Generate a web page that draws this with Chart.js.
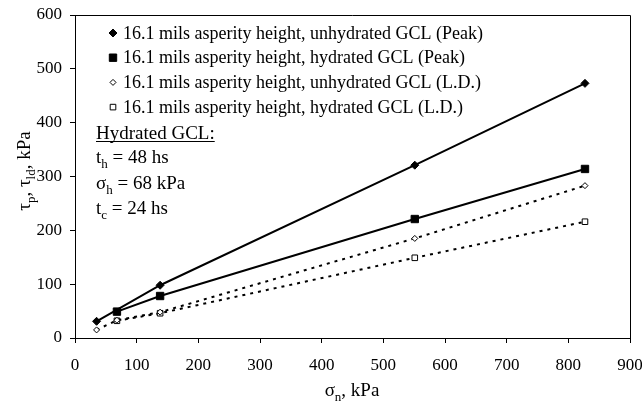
<!DOCTYPE html>
<html>
<head>
<meta charset="utf-8">
<script src="https://cdn.jsdelivr.net/npm/chart.js@4/dist/chart.umd.min.js"></script>
<style>
    html, body { margin: 0; padding: 0; background: #fff; }
    #wrap { width: 642px; height: 403px; }
</style>
</head>
<body>
<div id="wrap"><canvas id="chart" width="642" height="403"></canvas></div>
<script>
// ----- DATA (normal stress vs shear strength, kPa) ----- //
const seriesLabels = [
    '16.1 mils asperity height, unhydrated GCL (Peak)',
    '16.1 mils asperity height, hydrated GCL (Peak)',
    '16.1 mils asperity height, unhydrated GCL (L.D.)',
    '16.1 mils asperity height, hydrated GCL (L.D.)'
];
const sigmaUnhydPeak = [35, 138, 551, 827];
const tauUnhydPeak   = [31, 98, 321, 473];
const sigmaHydPeak   = [68, 138, 551, 827];
const tauHydPeak     = [49, 78, 221, 314];
const sigmaUnhydLD   = [35, 68, 138, 551, 827];
const tauUnhydLD     = [15, 33, 48, 185, 283];
const sigmaHydLD     = [68, 138, 551, 827];
const tauHydLD       = [32, 46, 149, 216];
const xTicks = [0, 100, 200, 300, 400, 500, 600, 700, 800, 900];
const yTicks = [0, 100, 200, 300, 400, 500, 600];
// note box: [main, subscript, rest]
const noteTitle = 'Hydrated GCL:';
const noteRows = [
    ['t', 'h', ' = 48 hs'],
    ['\u03c3', 'h', ' = 68 kPa'],
    ['t', 'c', ' = 24 hs']
];

const FONT = '"Liberation Serif", "Times New Roman", serif';
const toPoints = (xs, ys) => xs.map((x, i) => ({ x: x, y: ys[i] }));

// marker styles per series: [shape, filled, half size]
const markers = [['diamond', true, 4], ['square', true, 3.7], ['diamond', false, 3], ['square', false, 2.8]];

function drawMarker(ctx, shape, filled, x, y, r) {
    ctx.save();
    ctx.beginPath();
    if (shape === 'diamond') {
        ctx.moveTo(x, y - r); ctx.lineTo(x + r, y); ctx.lineTo(x, y + r); ctx.lineTo(x - r, y);
        ctx.closePath();
    } else {
        ctx.rect(x - r, y - r, 2 * r, 2 * r);
    }
    ctx.fillStyle = filled ? '#000' : '#fff';
    ctx.strokeStyle = '#000';
    ctx.lineWidth = 1;
    ctx.fill();
    ctx.stroke();
    ctx.restore();
}

// draw text pieces, odd ones as subscripts; returns width
function drawParts(ctx, parts, x, y, size, measureOnly) {
    let cx = x;
    parts.forEach((p, i) => {
        const sub = i % 2 === 1;
        ctx.font = (sub ? Math.round(size * 0.68) : size) + 'px ' + FONT;
        if (!measureOnly) ctx.fillText(p, cx, sub ? y + size * 0.28 : y);
        cx += ctx.measureText(p).width;
    });
    return cx - x;
}

const extras = {
    id: 'extras',
    afterDraw(chart) {
        const ctx = chart.ctx;
        const a = chart.chartArea;
        ctx.save();
        // frame top and right
        ctx.strokeStyle = '#000';
        ctx.lineWidth = 1;
        ctx.beginPath();
        ctx.moveTo(a.left, Math.round(a.top) + 0.5);
        ctx.lineTo(Math.round(a.right) + 0.5, Math.round(a.top) + 0.5);
        ctx.lineTo(Math.round(a.right) + 0.5, a.bottom);
        ctx.stroke();

        // legend
        ctx.fillStyle = '#000';
        ctx.textBaseline = 'middle';
        ctx.textAlign = 'left';
        ctx.font = '18px ' + FONT;
        seriesLabels.forEach((lbl, i) => {
            const y = 33 + i * 24.7;
            const m = markers[i];
            drawMarker(ctx, m[0], m[1], 113, y, m[2]);
            ctx.fillText(lbl, 123, y + 1);
        });

        // hydration note
        ctx.textBaseline = 'alphabetic';
        ctx.font = '19px ' + FONT;
        ctx.fillText(noteTitle, 96, 139);
        const w = ctx.measureText(noteTitle).width;
        ctx.fillRect(96, 141, w, 1);
        noteRows.forEach((row, i) => {
            drawParts(ctx, row, 96, 163 + i * 25.5, 19);
        });

        // axis titles
        const xt = ['\u03c3', 'n', ', kPa'];
        const xw = drawParts(ctx, xt, 0, 0, 19, true);
        drawParts(ctx, xt, 352 - xw / 2, 396, 19);

        const yt = ['\u03c4', 'p', ', \u03c4', 'ld', ', kPa'];
        const yw = drawParts(ctx, yt, 0, 0, 19, true);
        ctx.translate(30, 171);
        ctx.rotate(-Math.PI / 2);
        drawParts(ctx, yt, -yw / 2, 0, 19);
        ctx.restore();
    }
};

function series(i, xs, ys, dashed) {
    const m = markers[i];
    return {
        label: seriesLabels[i],
        data: toPoints(xs, ys),
        showLine: true,
        borderColor: '#000',
        borderWidth: 2,
        borderDash: dashed ? [3, 5] : [],
        pointStyle: m[0] === 'diamond' ? 'rectRot' : 'rect',
        pointRadius: m[0] === 'diamond' ? m[2] : m[2] * 1.41,
        pointBackgroundColor: m[1] ? '#000' : '#fff',
        pointBorderColor: '#000',
        pointBorderWidth: 1
    };
}

const tickFont = { family: FONT, size: 17 };

new Chart(document.getElementById('chart'), {
    type: 'scatter',
    data: {
        datasets: [
            series(0, sigmaUnhydPeak, tauUnhydPeak, false),
            series(1, sigmaHydPeak, tauHydPeak, false),
            series(2, sigmaUnhydLD, tauUnhydLD, true),
            series(3, sigmaHydLD, tauHydLD, true)
        ]
    },
    options: {
        responsive: false,
        animation: false,
        layout: { padding: { top: 15, right: 12, left: 0, bottom: 0 } },
        plugins: { legend: { display: false }, tooltip: { enabled: false } },
        scales: {
            x: {
                type: 'linear',
                min: xTicks[0],
                max: xTicks[xTicks.length - 1],
                afterBuildTicks: s => { s.ticks = xTicks.map(v => ({ value: v })); },
                afterFit: s => { s.height = 65; s.paddingLeft = 0; s.paddingRight = 0; },
                ticks: { color: '#000', font: tickFont, padding: 12, maxRotation: 0 },
                grid: { drawOnChartArea: false, color: '#000', tickLength: 5 },
                border: { color: '#000', width: 1 }
            },
            y: {
                type: 'linear',
                min: yTicks[0],
                max: yTicks[yTicks.length - 1],
                afterBuildTicks: s => { s.ticks = yTicks.map(v => ({ value: v })); },
                afterFit: s => { s.width = 75; s.paddingTop = 0; s.paddingBottom = 0; },
                ticks: { color: '#000', font: tickFont, padding: 8 },
                grid: { drawOnChartArea: false, color: '#000', tickLength: 5 },
                border: { color: '#000', width: 1 }
            }
        }
    },
    plugins: [extras]
});
</script>
</body>
</html>
